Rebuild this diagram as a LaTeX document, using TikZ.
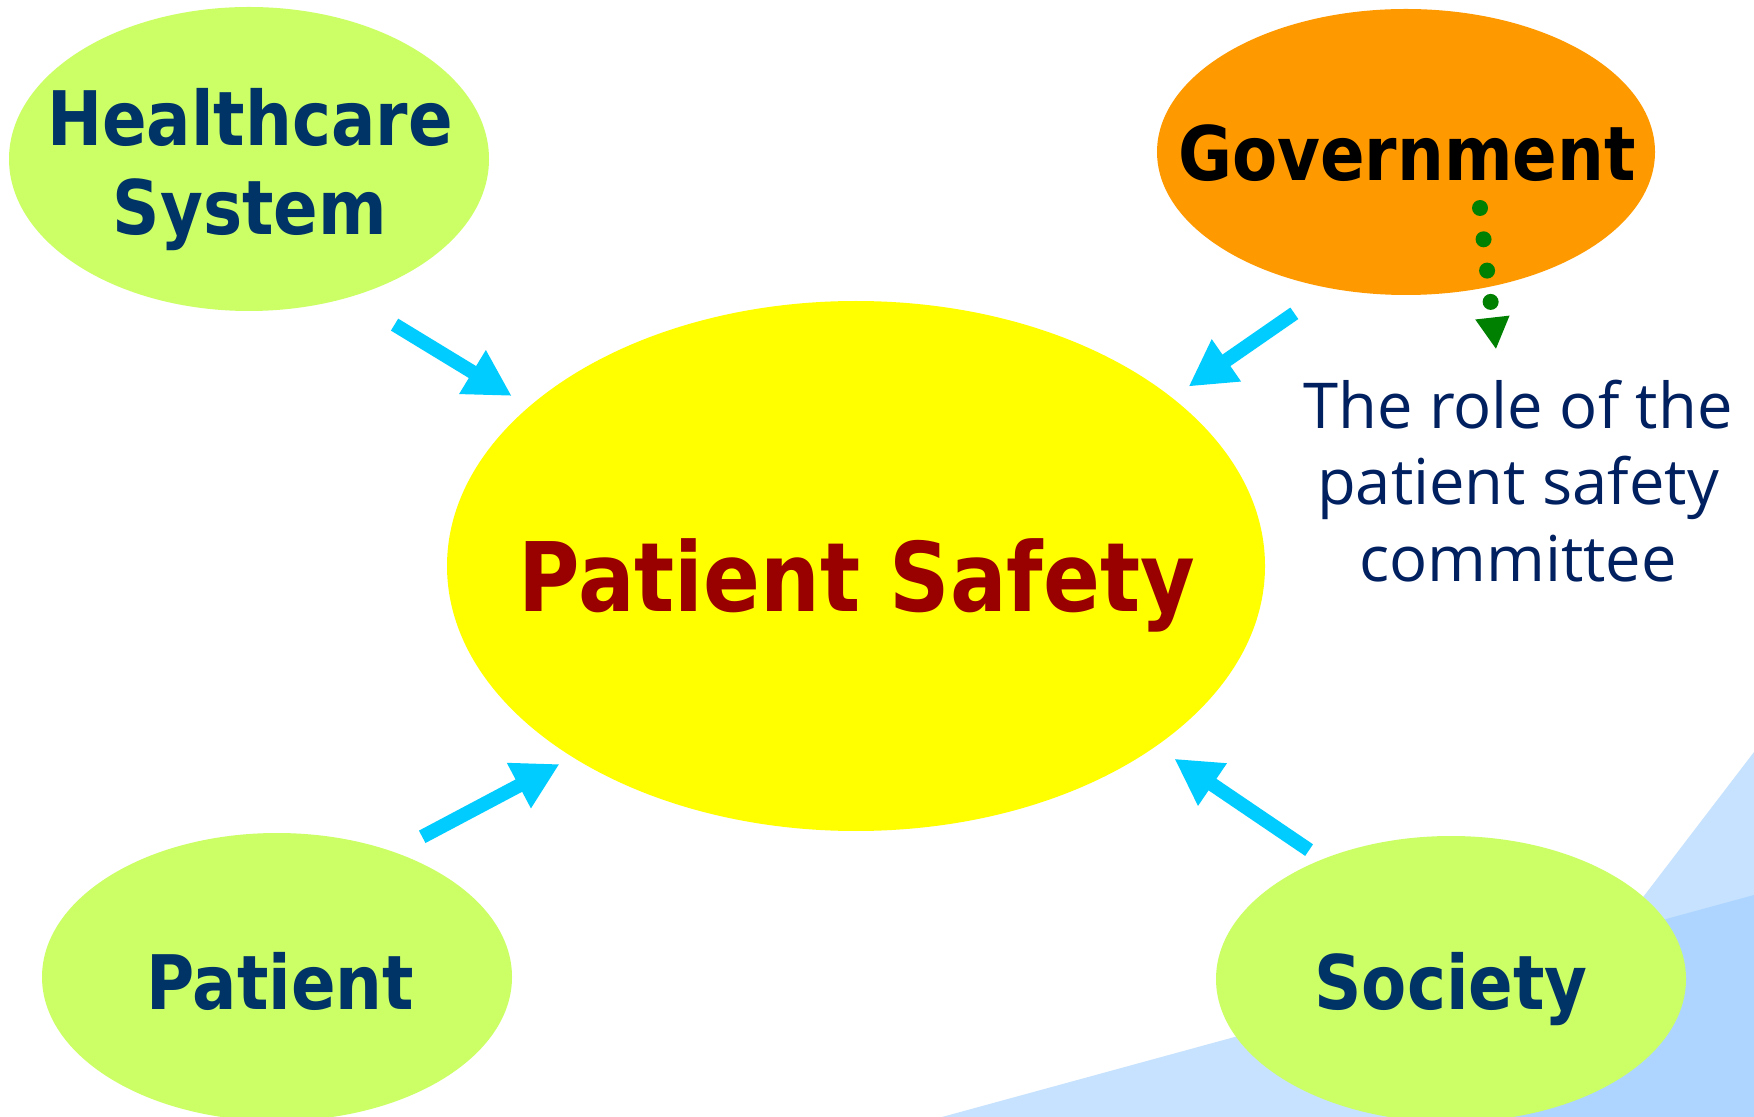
\documentclass[tikz,border=0pt]{standalone}
\usepackage{fontspec}
\usetikzlibrary{arrows.meta,shapes.geometric}

\newfontfamily\boldlabel[FakeStretch=0.875]{DejaVu Sans}
\newfontfamily\notelabel{Open Sans}

\definecolor{limegreen}{RGB}{204,255,102}
\definecolor{govorange}{RGB}{255,153,0}
\definecolor{safetyyellow}{RGB}{255,255,0}
\definecolor{navy}{RGB}{0,51,102}
\definecolor{darkred}{RGB}{153,0,0}
\definecolor{notenavy}{RGB}{0,32,96}
\definecolor{arrowcyan}{RGB}{0,204,255}
\definecolor{dotgreen}{RGB}{0,128,0}
\definecolor{skylight}{RGB}{198,226,254}
\definecolor{skydark}{RGB}{173,213,255}

\tikzset{
  bubble/.style={ellipse, inner sep=0pt, outer sep=0pt, draw=none},
  bigtext/.style={font=\boldlabel\bfseries\fontsize{21.4}{25.6}\selectfont,
    text=navy, align=center, inner sep=0pt, anchor=base},
  flow/.style={arrowcyan, line width=0.14cm,
    -{Triangle[width=0.48cm,length=0.46cm]}},
}

\begin{document}
\begin{tikzpicture}[x=0.1mm,y=-0.1mm]
    \fill[white] (0,0) rectangle (1754,1117);
    \useasboundingbox (0,0) rectangle (1754,1117);

    % blue wedges in the corner
    \fill[skylight] (1754,752) -- (1475,1117) -- (1754,1117) -- cycle;
    \fill[skylight] (942,1117) -- (1754,895) -- (1754,1117) -- cycle;
    \begin{scope}
        \clip (1754,752) -- (1475,1117) -- (1754,1117) -- cycle;
        \fill[skydark] (942,1117) -- (1754,895) -- (1754,1117) -- cycle;
    \end{scope}

    % bubbles
    \node[bubble, fill=limegreen, minimum width=4.8cm, minimum height=3.04cm] (hc) at (249,159) {};
    \node[bubble, fill=govorange, minimum width=4.98cm, minimum height=2.86cm] (gov) at (1406,152) {};
    \node[bubble, fill=safetyyellow, minimum width=8.18cm, minimum height=5.3cm] (ps) at (856,566) {};
    \node[bubble, fill=limegreen, minimum width=4.7cm, minimum height=2.88cm] (pat) at (277,977) {};
    \node[bubble, fill=limegreen, minimum width=4.7cm, minimum height=2.86cm] (soc) at (1451,979) {};

    % labels (base = last line)
    \node[bigtext] (hc text) at (250,235) {Healthcare\\System};
    \node[bigtext, text=black] (gov text) at (1407,181) {Government};
    \node[bigtext, text=darkred, font=\boldlabel\bfseries\fontsize{27.3}{32}\selectfont] (ps text) at (857,611) {Patient Safety};
    \node[bigtext] (pat text) at (280,1009) {Patient};
    \node[bigtext] (soc text) at (1451,1009) {Society};
    \node[font=\notelabel\fontsize{18}{21.7}\selectfont, text=notenavy, align=center,
        inner sep=0pt, anchor=base] (committee) at (1518,581) {The role of the\\patient safety\\committee};

    % arrows into the centre
    \draw[flow, shorten <=0.53cm, shorten >=0.205cm] (hc.-54.7) -- (ps.154.7);
    \draw[flow, shorten <=0.44cm, shorten >=0.2cm] (gov.-119.9) -- (ps.28.1);
    \draw[flow, shorten <=0.324cm, shorten >=0.149cm] (pat.47.3) -- (ps.-146.7);
    \draw[flow, shorten <=0.163cm, shorten >=0.224cm] (soc.137.6) -- (ps.-31.6);

    % dotted link down to the committee
    \draw[dotgreen, line width=0.16cm, line cap=round, dash pattern=on 0pt off 0.315cm,
        -{Triangle[width=0.32cm,length=0.32cm]}] ([shift={(74,56)}]gov.center) -- ([shift={(-22,-30)}]committee.north);
\end{tikzpicture}
\end{document}
